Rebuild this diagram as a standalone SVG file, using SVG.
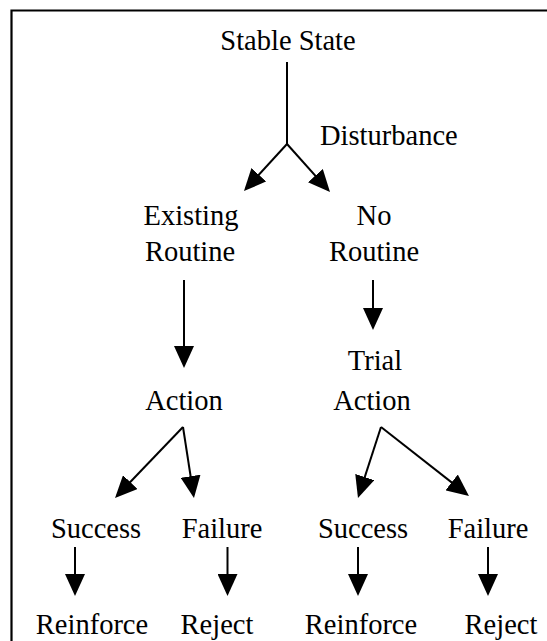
<svg xmlns="http://www.w3.org/2000/svg" width="547" height="641" viewBox="0 0 547 641">
<style>
text{font-family:'Liberation Serif','Times New Roman',Tinos,'DejaVu Serif',serif;font-size:28.5px;fill:#000;text-anchor:middle}
.c line{stroke:#000;stroke-width:2;marker-end:url(#ah)}
.frame{stroke:#000;stroke-width:2.2;fill:none}
</style>
<defs>
<marker id="ah" markerUnits="userSpaceOnUse" markerWidth="22" markerHeight="20" refX="19" refY="10" orient="auto" viewBox="0 0 22 20">
<path d="M0,0 L22,10 L0,20 z" fill="#000"/>
</marker>
</defs>
<path class="frame" d="M11.5,641 L11.5,10.5 L547,10.5"/>
<g id="stable"><text x="288" y="50">Stable State</text></g>
<g id="disturbance"><text x="320" y="145" style="text-anchor:start">Disturbance</text></g>
<g id="existing"><text x="191" y="225">Existing</text><text x="190" y="261">Routine</text></g>
<g id="noroutine"><text x="374" y="225">No</text><text x="374" y="261">Routine</text></g>
<g id="action"><text x="184" y="410">Action</text></g>
<g id="trial"><text x="375" y="370">Trial</text><text x="372" y="410">Action</text></g>
<g id="success1"><text x="96" y="538">Success</text></g>
<g id="failure1"><text x="222" y="538">Failure</text></g>
<g id="success2"><text x="363" y="538">Success</text></g>
<g id="failure2"><text x="488" y="538">Failure</text></g>
<g id="reinforce1"><text x="92" y="634">Reinforce</text></g>
<g id="reject1"><text x="217" y="634">Reject</text></g>
<g id="reinforce2"><text x="361" y="634">Reinforce</text></g>
<g id="reject2"><text x="501" y="634">Reject</text></g>
<g class="c" id="connectors">
<path d="M287,62 L287,145" stroke="#000" stroke-width="2" fill="none"/>
<line x1="287" y1="144" x2="246" y2="188.8"/>
<line x1="287" y1="144" x2="328" y2="189.8"/>
<line x1="184" y1="280" x2="184" y2="365"/>
<line x1="373" y1="280" x2="373" y2="327"/>
<line x1="183" y1="427" x2="117.1" y2="495.8"/>
<line x1="183" y1="427" x2="193.5" y2="495"/>
<line x1="381" y1="427" x2="358.9" y2="495.1"/>
<line x1="381" y1="427" x2="466.6" y2="494.1"/>
<line x1="75" y1="547" x2="75" y2="593"/>
<line x1="227.5" y1="547" x2="227.5" y2="593"/>
<line x1="358" y1="547" x2="358" y2="593"/>
<line x1="488" y1="547" x2="488" y2="593"/>
</g>
</svg>
